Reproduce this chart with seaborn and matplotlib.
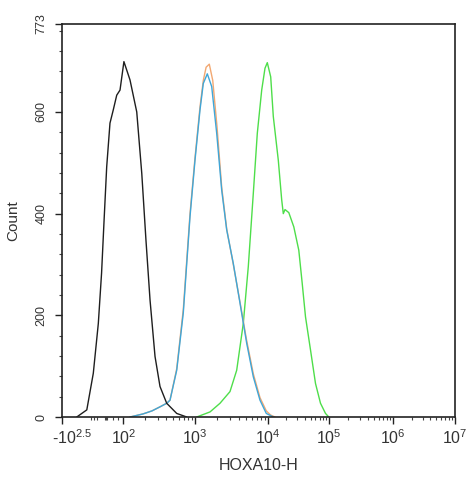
import numpy as np
import pandas as pd
import matplotlib
matplotlib.use("Agg")
import matplotlib.pyplot as plt
import matplotlib.transforms as mtrans
import seaborn as sns

# ---------------- data ----------------
black_x = [-99, -65, -43, -26, -15, -7, 4, 23, 42, 62, 81, 102, 124, 154, 181, 207, 236, 277, 325, 403, 556, 766]
black_y = [0, 14, 86, 184, 283, 381, 492, 578, 604, 633, 643, 699, 663, 600, 479, 348, 230, 119, 60, 27, 7, 0]

blue_x = [124, 188, 251, 325, 403, 448, 556, 687, 852, 1000, 1171, 1299, 1474, 1693, 1983, 2322, 2718,
          3347, 4135, 5108, 6292, 7771, 9478, 12218]
blue_y = [0, 6, 12, 20, 27, 33, 92, 205, 394, 505, 604, 656, 675, 650, 558, 446, 368,
          302, 224, 145, 79, 33, 7, 0]

orange_x = [124, 188, 251, 325, 403, 448, 556, 687, 852, 1000, 1171, 1299, 1420, 1570, 1750, 2000, 2322,
            2718, 3347, 4135, 5108, 6292, 7771, 9478, 11000, 13000]
orange_y = [0, 6, 12, 20, 27, 33, 95, 212, 400, 510, 610, 662, 688, 694, 662, 572, 452,
            370, 300, 226, 150, 85, 38, 12, 4, 0]

green_x = [1055, 1606, 2200, 3016, 3726, 4587, 5372, 6292, 7136, 8197, 9097, 9781, 11076, 12218, 14752,
           16775, 17815, 19000, 21930, 26490, 31980, 36370, 41190, 49740, 60060, 72540, 87600, 99240]
green_y = [0, 10, 27, 50, 92, 184, 296, 440, 558, 643, 686, 697, 669, 591, 505,
           427, 400, 408, 402, 374, 328, 263, 197, 132, 66, 27, 7, 0]

series_names = ["black", "orange", "blue", "green"]
series_colors = {"black": "#1e1e1e", "orange": "#f2a872", "blue": "#3fa6d8", "green": "#4ede4a"}

xtick_values = [-316.23, 1e2, 1e3, 1e4, 1e5, 1e6, 1e7]
xtick_labels = [r"-$10^{2.5}$", r"$10^{2}$", r"$10^{3}$", r"$10^{4}$", r"$10^{5}$", r"$10^{6}$", r"$10^{7}$"]
ytick_values = [0, 200, 400, 600, 773]
ytick_labels = ["0", "200", "400", "600", "773"]

# ---------------- logicle-like axis scale ----------------
U_KNOTS = np.array([-20, -1.5, 0, 1, 2, 3, 4, 5, 6, 20])
P_KNOTS = np.array([-484.7, 61.7, 106, 123.3, 195, 268, 329, 393, 455, 1323])


def _to_u(x):
    x = np.asarray(x, dtype=float)
    a = np.abs(x)
    return np.where(a <= 100, x / 100.0, np.sign(x) * (1 + np.log10(np.maximum(a, 100) / 100.0)))


def _from_u(u):
    u = np.asarray(u, dtype=float)
    a = np.abs(u)
    return np.where(a <= 1, 100.0 * u, np.sign(u) * 100.0 * 10 ** (np.maximum(a, 1) - 1))


def fwd(x):
    return np.interp(_to_u(x), U_KNOTS, P_KNOTS)


def inv(p):
    return _from_u(np.interp(np.asarray(p, dtype=float), P_KNOTS, U_KNOTS))


frames = []
for name, xs, ys in [("black", black_x, black_y), ("orange", orange_x, orange_y),
                     ("blue", blue_x, blue_y), ("green", green_x, green_y)]:
    frames.append(pd.DataFrame({"intensity": xs, "count": ys, "sample": name}))
df = pd.concat(frames, ignore_index=True)

# ---------------- figure ----------------
sns.set_style("white")
plt.rcParams["font.family"] = ["Liberation Sans", "DejaVu Sans"]
plt.rcParams["mathtext.fontset"] = "custom"
plt.rcParams["mathtext.rm"] = "Liberation Sans"
plt.rcParams["mathtext.it"] = "Liberation Sans"
plt.rcParams["mathtext.bf"] = "Liberation Sans"

fig = plt.figure(figsize=(4.73, 4.86), dpi=100)
ax = fig.add_axes([61.7 / 473, 1 - 417 / 486, (455 - 61.7) / 473, (417 - 24) / 486])
ax.set_xscale("function", functions=(fwd, inv))

for name in ["green", "orange", "blue", "black"]:
    sub = df[df["sample"] == name]
    sns.lineplot(data=sub, x="intensity", y="count", ax=ax, color=series_colors[name],
                 linewidth=1.0, sort=False, estimator=None)

ax.set_xlim(-316.23, 1e7)
ax.set_ylim(0, 773)

# ticks
ax.set_xticks(xtick_values)
ax.set_xticklabels(xtick_labels)
minor = [-50, -40, -30, -5, 0, 5, 40, 70]
for k in range(2, 7):
    minor += [m * 10 ** k for m in range(2, 10)]
ax.set_xticks(minor, minor=True)
ax.set_yticks(ytick_values)
ax.set_yticklabels(ytick_labels)
ax.set_yticks([v for v in range(40, 773, 40) if v % 200 != 0], minor=True)

ax.tick_params(axis="both", which="major", direction="out", length=5, width=1.0,
               color="#222222", labelcolor="#333333", bottom=True, left=True)
ax.tick_params(axis="both", which="minor", direction="out", length=2.5, width=0.8,
               color="#444444", bottom=True, left=True)
ax.tick_params(axis="x", which="major", labelsize=11.5, pad=3)
ax.tick_params(axis="y", which="major", labelsize=9, pad=5, labelrotation=90)
for lab in ax.get_yticklabels():
    lab.set_va("center")

# shift the first x label a little to the right, as in the reference
first = ax.get_xticklabels()[0]
first.set_transform(first.get_transform() + mtrans.ScaledTranslation(10 / 100, 0, fig.dpi_scale_trans))

for sp in ax.spines.values():
    sp.set_visible(True)
    sp.set_color("#222222")
    sp.set_linewidth(1.2)

ax.set_xlabel("HOXA10-H", fontsize=11.5, color="#333333")
ax.set_ylabel("Count", fontsize=11, color="#333333")
ax.xaxis.set_label_coords(0.5, -(458 - 417) / 393)
ax.yaxis.set_label_coords((20.5 - 61.7) / 393.3, 0.5)
ax.xaxis.label.set_va("top")
ax.grid(False)

fig.savefig("out.png", dpi=100)
